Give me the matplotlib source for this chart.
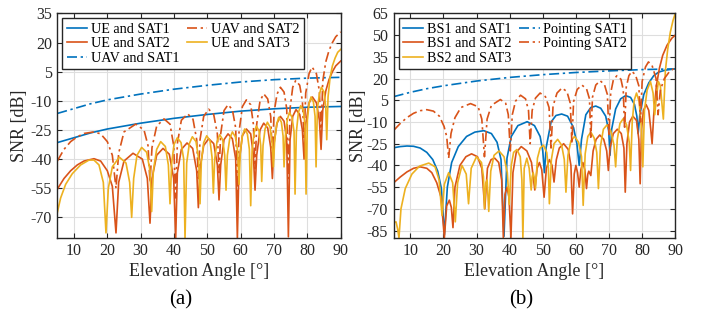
import matplotlib
matplotlib.use("Agg")
import matplotlib.pyplot as plt

plt.rcParams['font.family'] = ['Liberation Serif', 'DejaVu Serif']
plt.rcParams['axes.unicode_minus'] = False
plt.rcParams['mathtext.fontset'] = 'stix'

BLUE = '#0072BD'
ORANGE = '#D95319'
YELLOW = '#EDB120'

# ---------------- Panel (a) data ----------------
a_smooth_x = [5, 10, 15, 20, 30, 40, 50, 60, 70, 80, 90]
ue_sat1_y = [-31.5, -29, -26.5, -24.5, -21.5, -19, -17, -15.3, -14.1, -13.3, -12.9]
uav_sat1_y = [-16.5, -14, -11.5, -9.5, -6.5, -4, -2, -0.3, 0.9, 1.7, 2.1]

ue_sat2_x = [5, 7, 9, 11, 13, 16, 18, 20, 21.5, 22.6,
             23.4, 25, 27.7, 30.5, 32, 32.8,
             33.4, 34.8, 36.7, 38.6, 39.9, 40.5,
             41, 42.2, 43.9, 45.6, 46.8, 47.3,
             47.8, 48.9, 50.4, 51.9, 53, 53.5,
             54, 55, 56.2, 57.5, 58.5, 59,
             59.5, 60.5, 61.7, 63, 63.8, 64.3,
             64.8, 65.8, 66.9, 68.1, 69, 69.5,
             70, 70.9, 71.9, 73, 73.8, 74.3,
             74.8, 75.6, 76.6, 77.7, 78.5, 79,
             79.5, 80.5, 81.5, 82.7, 83.6, 84.1,
             84.6, 85.5, 86.5, 87.5, 88.5, 90]
ue_sat2_y = [-55.5, -50, -46, -43, -41, -39.8, -41, -46, -54, -78,
             -52, -41, -37, -40, -50, -73,
             -50, -38, -34.5, -37.5, -50, -81,
             -47, -35, -31.7, -34.5, -46, -65,
             -45, -33, -29.5, -32, -43, -61,
             -43, -30, -27, -29.5, -40, -81,
             -42, -28, -24.5, -27, -38, -56,
             -38, -25, -21.5, -24, -34, -50,
             -32, -21.5, -18, -20.5, -30, -80,
             -30, -18, -14.5, -17, -25, -40,
             -22, -11, -8, -11, -20, -35,
             -15, -5, 1, 5, 8, 10.5]

uav_sat2_x = [5, 7, 9, 11, 13, 16, 18, 20, 21.5, 22.6,
              23.4, 25, 28.5, 31, 32.2, 32.8,
              33.4, 34.8, 37, 38.8, 39.9, 40.5,
              41, 42.2, 44.1, 45.7, 46.8, 47.3,
              47.8, 48.9, 50.4, 51.9, 53, 53.5,
              54, 55, 56.2, 57.5, 58.5, 59,
              59.5, 60.5, 61.7, 63, 63.8, 64.3,
              64.8, 65.8, 66.9, 68.1, 69, 69.5,
              70, 70.9, 71.9, 73, 73.8, 74.3,
              74.8, 75.6, 76.5, 77.7, 78.5, 79,
              79.5, 80.5, 81.4, 82.7, 83.6, 84.1,
              84.6, 85.5, 86.5, 87.5, 88.5, 90]
uav_sat2_y = [-41, -35, -31, -28.5, -26.8, -26, -27, -31, -38, -55,
              -37, -26, -22, -25, -33, -52,
              -34, -23, -19.3, -22, -33, -60,
              -32, -20, -16.7, -19.5, -30, -50,
              -30, -18, -14.3, -17, -27, -47,
              -27, -15, -12, -14.5, -24, -60,
              -26, -13, -9.5, -12, -22, -45,
              -22, -10, -6.4, -9, -18, -40,
              -16, -6.5, -3, -5.5, -14, -50,
              -14, -3, 0.5, -2, -10, -30,
              -6, 4, 7.4, 4, -5, -28,
              0, 10, 16, 20, 23, 25.5]

ue_sat3_x = [5, 6, 7.5, 9.5, 12, 14.5, 16, 17.5, 18.8, 19.6,
             20.3, 21.5, 23.6, 25.6, 26.7, 27.3,
             27.9, 28.9, 30.3, 31.8, 32.8, 33.3,
             33.8, 34.8, 36, 37.4, 38.3, 38.8,
             39.3, 40, 41, 42.1, 42.9, 43.3,
             43.8, 44.6, 45.5, 46.6, 47.4, 47.8,
             48.2, 48.9, 49.8, 50.8, 51.4, 51.8,
             52.2, 52.9, 53.7, 54.6, 55.2, 55.6,
             56, 56.7, 57.5, 58.4, 59.1, 59.5,
             59.9, 60.5, 61.2, 62, 62.6, 63,
             63.4, 64, 64.7, 65.5, 66, 66.3,
             66.7, 67.3, 68, 68.8, 69.4, 69.8,
             70.2, 70.8, 71.4, 72.2, 72.7, 73,
             73.4, 74, 74.6, 75.4, 76, 76.3,
             76.7, 77.3, 78, 78.8, 79.3, 79.6,
             80, 80.5, 81.1, 81.8, 82.3, 82.6,
             83, 83.6, 84.2, 85, 85.5, 85.8,
             86.2, 86.8, 87.5, 88.3, 89.1, 90]
ue_sat3_y = [-67.5, -60, -53, -47.5, -43, -40.5, -40.5, -43, -52, -78,
             -55, -44, -39, -42, -52, -70,
             -50, -38, -34, -36.5, -46, -67,
             -46, -35, -31, -33.5, -43, -63,
             -42, -32.5, -29, -31.5, -40, -81,
             -42, -32, -28.5, -31, -40, -63,
             -41, -31.5, -28, -30.5, -39, -57.5,
             -40, -31, -27.5, -30, -38, -56,
             -38, -29.5, -26, -28.5, -36, -53,
             -36, -28, -24.5, -27, -35, -64,
             -36, -26.5, -23, -25.5, -33, -51.5,
             -33, -24.5, -21, -23.5, -31, -44,
             -30, -22, -18.5, -21, -28, -44,
             -28, -19.5, -16, -18.5, -26, -58,
             -26, -16, -12.5, -15, -23, -58,
             -20, -11.5, -8, -10.5, -18, -44,
             -14, -6.5, -3, -5.5, -13, -30,
             -8, 2, 8, 12, 15, 16.5]

# ---------------- Panel (b) data ----------------
b_smooth_x = [5, 10, 15, 20, 30, 40, 50, 60, 70, 80, 90]
pointing_sat1_y = [7.5, 10.5, 13, 15, 18.3, 20.8, 22.7, 24.2, 25.3, 26.2, 26.7]

bs1_sat1_x = [5, 7, 9, 11, 13, 15, 16.8, 18.3, 19.4, 20.3, 21.2, 22.5, 24.5, 27, 29.5,
              32.2, 34.5, 36.2, 37.4, 38.3, 39.2, 40.5, 42.5, 45.3, 47.5, 49.2, 50,
              50.5, 51, 52.5, 54, 55.7, 57.5, 59.3, 60.3, 61, 61.7, 63, 64.5, 66,
              67.5, 69, 69.9, 70.3, 70.8, 72, 73.5, 75, 76.5, 77.7, 78.4, 78.8,
              79.3, 80.5, 82, 83.5, 85, 87, 90]
bs1_sat1_y = [-27.8, -27, -26.6, -26.8, -28, -31, -36, -44, -56, -88, -55, -38, -27, -20, -17,
              -16, -18, -24, -36, -89, -35, -20, -12.5, -9.8, -12.5, -20, -30,
              -45, -28, -10, -5.5, -4.5, -6, -14, -25, -40, -22, -5, 0, 1,
              -0.5, -6, -16, -33, -15, -1, 6, 8.2, 7, 2, -6, -18,
              -5, 9, 17, 22, 24.5, 25.8, 26.7]

bs1_sat2_x = [5, 7, 9, 11, 13, 15, 16.5, 18, 19.3, 20.3, 21, 21.8, 22.4, 22.9,
              23.5, 25, 26.8, 28.5, 30.3, 31.6, 32.5, 33.3, 34.4, 35.5, 36.7, 37.6,
              38.1, 38.6, 39.2, 39.8, 40.4, 41, 42, 43.5, 45.2, 46.6, 47.6, 48.3,
              49, 49.7, 50.4, 51.1, 52, 52.8, 53.4, 54.1, 55, 56.3, 57.7, 58.5,
              59, 59.5, 60, 60.5, 61, 61.5, 62.1, 62.7, 63.2, 63.6, 63.9, 64.5,
              65.2, 66.1, 67.2, 68.4, 69.3, 69.8, 70.3, 71.3, 72.5, 73.7, 74.5,
              74.9, 75.4, 76.2, 77.2, 78.3, 79, 79.4, 79.8, 80.4, 81.2, 82, 82.6,
              83, 83.5, 84.3, 85.2, 86.2, 87.5, 89, 90]
bs1_sat2_y = [-52, -48, -44.5, -42, -41, -42, -45, -52, -62, -90, -68, -64, -69, -83,
              -55, -40, -34, -32, -34, -42, -70, -42, -36, -35, -38, -50,
              -90, -60, -55, -62, -90, -45, -31, -27, -30, -38, -57, -42,
              -38, -43, -62, -42, -36, -40, -51.5, -36, -28, -25, -29, -40,
              -73.5, -46, -40, -45, -55, -43, -38, -43, -56, -46, -44, -47,
              -30, -22, -19, -22, -30, -43.5, -28, -18, -15, -18, -28,
              -58.5, -25, -10, -6, -9, -22, -52.7, -15, -2, 2, -2, -15,
              -25, -5, 15, 27, 36, 43, 48, 50]

bs2_sat3_x = [5, 5.7, 6.2, 6.6, 7.2, 8.5, 10.5, 12.8, 15.6, 17.5, 18.7, 19.6,
              20.3, 21.6, 22.8, 23.6, 24.3, 25.6, 26.9, 27.6, 28.4, 30, 31.5,
              32.1, 32.4, 32.8, 33.2, 33.7, 34.3, 35.3, 36.8, 38.3, 39.3, 39.9,
              40.5, 41.2, 42.2, 43.2, 43.7, 44, 44.4, 45.2, 45.9, 46.5, 46.8,
              47.1, 47.4, 47.8, 48.4, 49.2, 50.2, 51.2, 51.7, 52, 52.6, 53.4,
              54.5, 55.7, 56.5, 57, 57.6, 58.5, 59.6, 60.8, 61.7, 62.2, 62.8,
              63.6, 64.5, 65.5, 66.3, 66.8, 67.4, 68.3, 69.4, 70.5, 71.5, 72,
              72.5, 73.3, 74.3, 75.3, 76.1, 76.5, 77, 77.6, 78.3, 79.1, 79.8,
              80.2, 80.7, 81.5, 82.5, 83.3, 83.8, 84.2, 84.9, 85.5, 86, 86.4,
              87, 87.7, 88.5, 89.3, 90]
bs2_sat3_y = [-79.5, -79, -84, -90, -70, -56, -46, -40.5, -38.4, -41, -50, -74.6,
              -53, -45, -52, -79, -52, -40, -46, -66.5, -42, -34, -38,
              -48, -70, -52, -50, -71.8, -44, -33, -30, -34, -45, -67,
              -40, -31, -29, -34, -50, -90, -42, -35, -42, -57, -48,
              -45, -48, -56, -35, -28, -26, -31, -42, -66.5, -36, -25,
              -22, -26, -36, -58.5, -33, -23, -20, -24, -34, -67.6, -32,
              -20, -17, -21, -31, -56, -27, -15, -12, -16, -26, -41,
              -22, -11, -7.7, -12, -24, -43.5, -10, 5, 10, 4, -15,
              -41, -2, 12, 18, 10, -5, 5, 18, 15, 2, -8,
              25, 40, 52, 60, 65]

pointing_sat2_x = [5, 7, 9, 11, 13, 15, 17, 18.8, 20.2, 21, 21.6, 22.3, 23.5, 25.3, 28.2,
                   30.5, 31.6, 32.4, 33.2, 34.5, 37.2, 38.8, 39.6, 40.2, 40.8, 41.8,
                   43.3, 44.8, 45.7, 46.2, 46.8, 47.8, 49.2, 50.8, 51.9, 52.5, 53.1,
                   54.3, 55.8, 57.3, 58.3, 58.8, 59.3, 60.4, 61.8, 63.2, 64.1, 64.5,
                   65, 66, 67.3, 68.6, 69.5, 70, 70.5, 71.3, 72.4, 73.6, 74.3, 74.7,
                   75.2, 76, 76.9, 78, 79, 79.5, 80, 81, 81.9, 83, 84.2, 84.8, 85.5,
                   86.7, 88.3, 90]
pointing_sat2_y = [-15.8, -11, -7, -4, -2.2, -1.5, -2.5, -6, -13, -20, -35, -18, -7, 0, 2.7,
                   0.5, -8, -34, -8, 1.5, 5.5, 3, -5, -30, -5, 4.5,
                   8.5, 6, -2, -25, -2, 6.5, 10, 7.5, 0, -28, 1,
                   10, 13.5, 11, 3, -25, 4, 12.5, 15.5, 13, 6, -22,
                   7, 15.5, 18.5, 16, 9, -20, 10, 19, 22, 19.5, 12, -15,
                   14, 22, 25, 22.5, 15, -10, 18, 28, 31.5, 29, 20, -5, 12,
                   20, 25, 27.5]

a_yticks = [35, 20, 5, -10, -25, -40, -55, -70]
b_yticks = [65, 50, 35, 20, 5, -10, -25, -40, -55, -70, -85]
x_ticks = [10, 20, 30, 40, 50, 60, 70, 80, 90]

DASHDOT = (0, (6, 2.2, 1.4, 2.2))
LW = 1.2

fig = plt.figure(figsize=(7.04, 3.2), dpi=100)
ax1 = fig.add_axes([0.0814, 0.257, 0.4026, 0.701])
ax2 = fig.add_axes([0.5592, 0.257, 0.4000, 0.701])

ax1.plot(a_smooth_x, ue_sat1_y, color=BLUE, lw=LW, label='UE and SAT1')
ax1.plot(ue_sat2_x, ue_sat2_y, color=ORANGE, lw=LW, label='UE and SAT2')
ax1.plot(a_smooth_x, uav_sat1_y, color=BLUE, lw=LW, ls=DASHDOT, label='UAV and SAT1')
ax1.plot(uav_sat2_x, uav_sat2_y, color=ORANGE, lw=LW, ls=DASHDOT, label='UAV and SAT2')
ax1.plot(ue_sat3_x, ue_sat3_y, color=YELLOW, lw=LW, label='UE and SAT3')

ax2.plot(bs1_sat1_x, bs1_sat1_y, color=BLUE, lw=LW, label='BS1 and SAT1')
ax2.plot(bs1_sat2_x, bs1_sat2_y, color=ORANGE, lw=LW, label='BS1 and SAT2')
ax2.plot(bs2_sat3_x, bs2_sat3_y, color=YELLOW, lw=LW, label='BS2 and SAT3')
ax2.plot(b_smooth_x, pointing_sat1_y, color=BLUE, lw=LW, ls=DASHDOT, label='Pointing SAT1')
ax2.plot(pointing_sat2_x, pointing_sat2_y, color=ORANGE, lw=LW, ls=DASHDOT, label='Pointing SAT2')

ax1.set_ylim(-80.5, 35)
ax1.set_yticks(a_yticks)
ax2.set_ylim(-90, 65)
ax2.set_yticks(b_yticks)

for ax, ylp in ((ax1, 2), (ax2, 0)):
    ax.set_xlim(5, 90)
    ax.set_xticks(x_ticks)
    ax.grid(True, color='#dedede', lw=0.8)
    ax.set_axisbelow(True)
    for s in ax.spines.values():
        s.set_color('#262626')
        s.set_linewidth(1.0)
    ax.tick_params(direction='in', top=True, right=True, length=3.5, width=0.8,
                   colors='#262626', labelsize=11.5, pad=4)
    ax.set_xlabel('Elevation Angle [°]', fontsize=13, color='#262626', labelpad=3)
    ax.set_ylabel('SNR [dB]', fontsize=13, color='#262626', labelpad=ylp)
    leg = ax.legend(loc='upper left', ncol=2, fontsize=10.2, frameon=True, fancybox=False,
                    handlelength=1.45, handletextpad=0.25, columnspacing=0.55,
                    labelspacing=0.12, borderpad=0.3, borderaxespad=0.35)
    leg.get_frame().set_edgecolor('#262626')
    leg.get_frame().set_linewidth(1.0)
    leg.get_frame().set_alpha(1.0)

fig.text(181 / 704, 1 - 290 / 320, '(a)', ha='center', va='top', fontsize=15)
fig.text(521 / 704, 1 - 290 / 320, '(b)', ha='center', va='top', fontsize=15)

fig.savefig('out.png', dpi=100)
